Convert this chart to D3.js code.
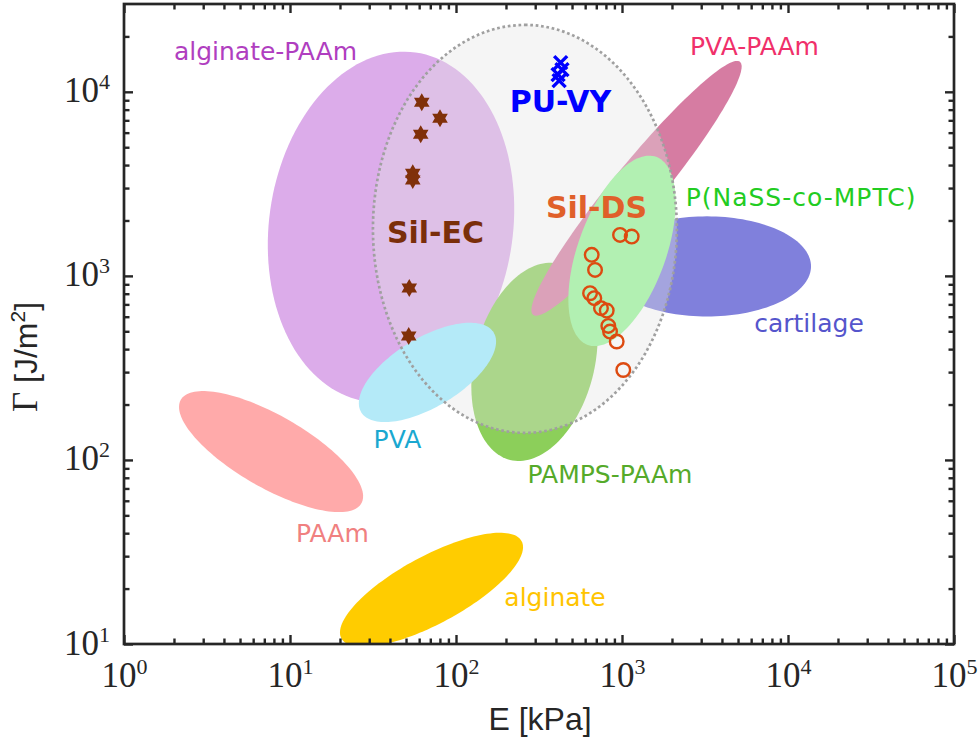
<!DOCTYPE html>
<html>
<head>
<meta charset="utf-8">
<script src="https://cdn.jsdelivr.net/npm/d3@7"></script>
<style>
  body { margin: 0; background: #fff; }
  .lbl { font-family: "DejaVu Sans", sans-serif; font-size: 25px; }
  .bold { font-weight: bold; font-size: 30px; }
</style>
</head>
<body>
<div id="chart"></div>
<script>

// ---- data (E in kPa, Gamma in J/m^2) ----

// material regions, drawn back to front
var regionNames  = ["alginate-PAAm", "PAAm", "alginate", "cartilage", "PAMPS-PAAm", "PVA-PAAm", "PVA", "P(NaSS-co-MPTC)"];
var regionColors = ["#dcacea", "#ffaaaa", "#ffcc00", "#8080dc", "#8ccf5a", "#d67ca2", "#b4eaf8", "#b2f0b2"];
// ellipse centre, tip of the long half-axis, tip of the short half-axis
var regionCenter = [[40.6, 1845], [7.69, 111], [71.2, 19.7], [3250, 1126], [297, 341], [1223, 2990], [67.3, 299], [1000, 1367]];
var regionMajor  = [[57.0, 16360], [26.9, 58.1], [248.5, 36.2], [13760, 1126], [417, 1162], [5138, 14550], [168.7, 492], [1607, 4433]];
var regionMinor  = [[216.8, 1493], [9.86, 164.3], [88.9, 13.57], [3250, 2106], [666, 284.3], [1583, 2472], [86.2, 206.4], [1774, 1133]];

// dotted envelope around the new materials
var envCenter = [260, 1800],
    envMajor  = [260, 23100],
    envMinor  = [2140, 1800];

// region labels
var labelText  = ["alginate-PAAm", "PAAm", "alginate", "cartilage", "PAMPS-PAAm", "PVA-PAAm", "PVA", "P(NaSS-co-MPTC)"];
var labelColor = ["#b03ec0", "#f08080", "#ffc400", "#5555cc", "#55aa2a", "#f0306a", "#1aa8d0", "#22cc22"];
var labelE     = [7.12, 18.0, 395, 13380, 847, 6284, 44.4, 11980];
var labelG     = [14920, 35.8, 16.1, 496, 75.0, 15890, 116, 2401];

// measured samples
var puvyE  = [427, 435, 412, 418];
var puvyG  = [14400, 13200, 12400, 11500];
var silecE = [62.2, 80.1, 61.3, 54.9, 54.9, 52.3, 51.9];
var silecG = [8790, 7190, 5890, 3610, 3320, 858, 472];
var sildsE = [973, 1144, 657, 688, 642, 681, 747, 809, 827, 847, 929, 1018];
var sildsG = [1670, 1635, 1301, 1078, 805, 757, 668, 648, 535, 498, 440, 308];

// bold sample labels
var sampleText  = ["PU-VY", "Sil-EC", "Sil-DS"];
var sampleColor = ["#0000ff", "#7a2e0a", "#e0602a"];
var sampleE     = [426, 75.2, 702];
var sampleG     = [7785, 1511, 2066];

var xDecades = [1, 10, 100, 1000, 10000, 100000];
var yDecades = [10, 100, 1000, 10000];

// ---- layout ----
var width = 980,
    height = 741;

var svg = d3.select("#chart").append("svg")
    .attr("width", width)
    .attr("height", height);

var x = d3.scaleLog().domain([1, 1e5]).range([124, 954]);
var y = d3.scaleLog().domain([10, 3e4]).range([644, 4]);

svg.append("clipPath").attr("id", "plotclip")
  .append("rect")
    .attr("x", 124).attr("y", 4)
    .attr("width", 830).attr("height", 640);

// ellipse in log-log space, mapped through the scales
function ellipsePath(c, m, n) {
  var lc = [Math.log10(c[0]), Math.log10(c[1])],
      lm = [Math.log10(m[0]), Math.log10(m[1])],
      ln = [Math.log10(n[0]), Math.log10(n[1])];
  var pts = d3.range(0, 144).map(function(i) {
    var t = i / 144 * 2 * Math.PI;
    var le = lc[0] + (lm[0] - lc[0]) * Math.cos(t) + (ln[0] - lc[0]) * Math.sin(t);
    var lg = lc[1] + (lm[1] - lc[1]) * Math.cos(t) + (ln[1] - lc[1]) * Math.sin(t);
    return [x(Math.pow(10, le)), y(Math.pow(10, lg))];
  });
  return d3.line().curve(d3.curveLinearClosed)(pts);
}

var plot = svg.append("g").attr("clip-path", "url(#plotclip)");

// regions behind the envelope
var before = [0, 1, 2, 3, 4, 5],
    after = [6, 7];

before.forEach(function(i) {
  plot.append("path")
      .attr("d", ellipsePath(regionCenter[i], regionMajor[i], regionMinor[i]))
      .attr("fill", regionColors[i]);
});

var envD = ellipsePath(envCenter, envMajor, envMinor);
plot.append("path")
    .attr("d", envD)
    .attr("fill", "#e4e4e4")
    .attr("fill-opacity", 0.36);

after.forEach(function(i) {
  plot.append("path")
      .attr("d", ellipsePath(regionCenter[i], regionMajor[i], regionMinor[i]))
      .attr("fill", regionColors[i]);
});

plot.append("path")
    .attr("d", envD)
    .attr("fill", "none")
    .attr("stroke", "#a0a0a0")
    .attr("stroke-width", 2.7)
    .attr("stroke-dasharray", "2.7,2.7");

// labels
svg.selectAll(".region-label")
    .data(labelText)
  .enter().append("text")
    .attr("class", "lbl region-label")
    .attr("text-anchor", "middle")
    .attr("x", function(d, i) { return x(labelE[i]); })
    .attr("y", function(d, i) { return y(labelG[i]); })
    .attr("fill", function(d, i) { return labelColor[i]; })
    .style("letter-spacing", function(d) { return d === "P(NaSS-co-MPTC)" ? "1px" : null; })
    .text(function(d) { return d; });

// hexagram marker
function hexagram(r) {
  var p = [];
  for (var k = 0; k < 12; k++) {
    var a = k * Math.PI / 6 - Math.PI / 2;
    var rr = k % 2 === 0 ? r : r / Math.sqrt(3);
    p.push([rr * Math.cos(a), rr * Math.sin(a)]);
  }
  return "M" + p.join("L") + "Z";
}

plot.selectAll(".silec")
    .data(silecE)
  .enter().append("path")
    .attr("class", "silec")
    .attr("d", hexagram(9))
    .attr("fill", "#80300a")
    .attr("transform", function(d, i) { return "translate(" + x(d) + "," + y(silecG[i]) + ")"; });

plot.selectAll(".silds")
    .data(sildsE)
  .enter().append("circle")
    .attr("class", "silds")
    .attr("r", 6.8)
    .attr("cx", function(d) { return x(d); })
    .attr("cy", function(d, i) { return y(sildsG[i]); })
    .attr("fill", "none")
    .attr("stroke", "#dd4a10")
    .attr("stroke-width", 2.4);

plot.selectAll(".puvy")
    .data(puvyE)
  .enter().append("path")
    .attr("class", "puvy")
    .attr("d", "M-6.5,-6.5L6.5,6.5M-6.5,6.5L6.5,-6.5")
    .attr("stroke", "#0000ff")
    .attr("stroke-width", 3.4)
    .attr("transform", function(d, i) { return "translate(" + x(d) + "," + y(puvyG[i]) + ")"; });

svg.selectAll(".sample-label")
    .data(sampleText)
  .enter().append("text")
    .attr("class", "lbl bold sample-label")
    .attr("text-anchor", "middle")
    .attr("x", function(d, i) { return x(sampleE[i]); })
    .attr("y", function(d, i) { return y(sampleG[i]); })
    .attr("fill", function(d, i) { return sampleColor[i]; })
    .text(function(d) { return d; });

// ---- axes ----
function minors(decades, top) {
  var v = [];
  decades.forEach(function(d) {
    for (var k = 2; k <= 9; k++) if (k * d < top) v.push(k * d);
  });
  return v;
}
var xMinor = minors(xDecades, 1e5),
    yMinor = minors(yDecades, 3e4);

var axisColor = "#262626";

function tickStyle(g) {
  g.select(".domain").remove();
  g.selectAll("line").attr("stroke", axisColor).attr("stroke-width", 2.4);
}

// inward ticks on all four sides
svg.append("g").attr("transform", "translate(0,644)")
    .call(d3.axisBottom(x).tickValues(xMinor).tickSize(-5.5).tickFormat(""))
    .call(tickStyle);
svg.append("g").attr("transform", "translate(0,4)")
    .call(d3.axisTop(x).tickValues(xMinor).tickSize(-5.5).tickFormat(""))
    .call(tickStyle);
svg.append("g").attr("transform", "translate(124,0)")
    .call(d3.axisLeft(y).tickValues(yMinor).tickSize(-5.5).tickFormat(""))
    .call(tickStyle);
svg.append("g").attr("transform", "translate(954,0)")
    .call(d3.axisRight(y).tickValues(yMinor).tickSize(-5.5).tickFormat(""))
    .call(tickStyle);
svg.append("g").attr("transform", "translate(0,4)")
    .call(d3.axisTop(x).tickValues(xDecades).tickSize(-9).tickFormat(""))
    .call(tickStyle);
svg.append("g").attr("transform", "translate(954,0)")
    .call(d3.axisRight(y).tickValues(yDecades).tickSize(-9).tickFormat(""))
    .call(tickStyle);

var xAxis = svg.append("g").attr("transform", "translate(0,644)")
    .call(d3.axisBottom(x).tickValues(xDecades).tickSize(-9))
    .call(tickStyle);
var yAxis = svg.append("g").attr("transform", "translate(124,0)")
    .call(d3.axisLeft(y).tickValues(yDecades).tickSize(-9))
    .call(tickStyle);

function powerLabel(sel) {
  sel.each(function(d) {
    var t = d3.select(this).text("")
        .attr("fill", axisColor)
        .style("font-family", "'Liberation Serif', serif")
        .style("font-size", "35px");
    t.append("tspan").text("10");
    t.append("tspan").attr("dy", -13).style("font-size", "22px").text(Math.round(Math.log10(d)));
  });
}

xAxis.selectAll(".tick text")
    .attr("y", 43).attr("dy", null)
    .call(powerLabel);
yAxis.selectAll(".tick text")
    .attr("x", -14).attr("dy", null).attr("y", 10)
    .call(powerLabel);

// frame
svg.append("rect")
    .attr("x", 124).attr("y", 4)
    .attr("width", 830).attr("height", 640)
    .attr("fill", "none")
    .attr("stroke", axisColor)
    .attr("stroke-width", 2.7);

// axis titles
svg.append("text")
    .attr("x", 540).attr("y", 730)
    .attr("text-anchor", "middle")
    .attr("fill", axisColor)
    .style("font-family", "'Liberation Sans', Arial, sans-serif")
    .style("font-size", "32px")
    .text("E [kPa]");

var yTitle = svg.append("text")
    .attr("transform", "translate(37,357) rotate(-90)")
    .attr("text-anchor", "middle")
    .attr("fill", axisColor)
    .style("font-family", "'Liberation Sans', Arial, sans-serif")
    .style("font-size", "32px");
yTitle.append("tspan").style("font-family", "'Liberation Serif', serif").style("font-size", "35px").text("\u0393");
yTitle.append("tspan").text(" [J/m");
yTitle.append("tspan").attr("dy", -12).style("font-size", "21px").text("2");
yTitle.append("tspan").attr("dy", 12).text("]");

</script>
</body>
</html>
